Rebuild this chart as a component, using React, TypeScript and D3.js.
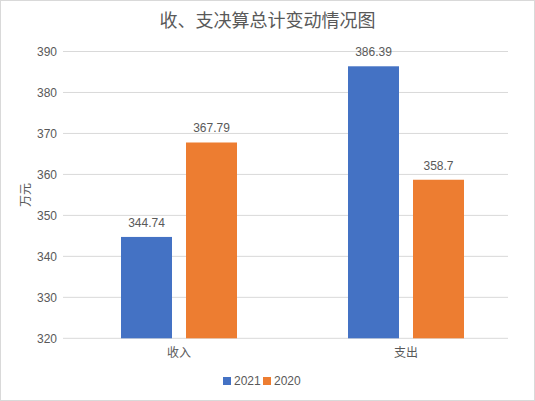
import React, { useEffect, useRef } from 'react';
import * as d3 from 'd3';

const categories = ['收入', '支出'];
const series = ['2021', '2020'];
const values2021 = [344.74, 386.39];
const values2020 = [367.79, 358.7];
const yTicks = [320, 330, 340, 350, 360, 370, 380, 390];
const colors = ['#4472c4', '#ed7d31'];

const W = 535;
const H = 401;
const FONT = '"Liberation Sans", "Noto Sans CJK SC", sans-serif';
const TEXT = '#595959';

export default function App() {
  const svgRef = useRef<SVGSVGElement>(null);

  useEffect(() => {
    if (!svgRef.current) return;
    const svg = d3.select(svgRef.current);
    svg.selectAll('*').remove();

    const plot = { left: 63, right: 508, top: 51.5, bottom: 338.3 };

    // 背景和边框
    svg.append('rect')
      .attr('x', 0.5).attr('y', 0.5)
      .attr('width', W - 1).attr('height', H - 1)
      .attr('fill', '#fff')
      .attr('stroke', '#d9d9d9');

    const y = d3.scaleLinear().domain([320, 390]).range([plot.bottom, plot.top]);

    const x0 = d3.scaleBand<string>().domain(categories).range([65.5, 519.5]);
    const groupW = 116;
    const x1 = d3.scaleBand<string>()
      .domain(series)
      .range([(x0.bandwidth() - groupW) / 2, (x0.bandwidth() + groupW) / 2])
      .paddingInner(14 / 65);

    // 网格线
    svg.append('g')
      .selectAll('line')
      .data(yTicks)
      .join('line')
      .attr('x1', plot.left).attr('x2', plot.right)
      .attr('y1', d => y(d)).attr('y2', d => y(d))
      .attr('stroke', '#d9d9d9')
      .attr('stroke-width', 1);

    // y轴刻度
    svg.append('g')
      .selectAll('text')
      .data(yTicks)
      .join('text')
      .attr('x', 57)
      .attr('y', d => y(d))
      .attr('dy', '0.35em')
      .attr('text-anchor', 'end')
      .attr('font-size', 12)
      .attr('font-family', FONT)
      .attr('fill', TEXT)
      .text(d => d);

    // 柱子
    const data = categories.map((c, i) => ({
      cat: c,
      vals: [
        { s: series[0], v: values2021[i], color: colors[0] },
        { s: series[1], v: values2020[i], color: colors[1] },
      ],
    }));

    const groups = svg.append('g')
      .selectAll('g')
      .data(data)
      .join('g')
      .attr('transform', d => `translate(${x0(d.cat)},0)`);

    groups.selectAll('rect')
      .data(d => d.vals)
      .join('rect')
      .attr('x', d => x1(d.s)!)
      .attr('width', x1.bandwidth())
      .attr('y', d => y(d.v))
      .attr('height', d => plot.bottom - y(d.v))
      .attr('fill', d => d.color);

    groups.selectAll('text')
      .data(d => d.vals)
      .join('text')
      .attr('x', d => x1(d.s)! + x1.bandwidth() / 2)
      .attr('y', d => y(d.v) - 10)
      .attr('text-anchor', 'middle')
      .attr('font-size', 12)
      .attr('font-family', FONT)
      .attr('fill', TEXT)
      .text(d => d.v);

    // 类别标签
    svg.append('g')
      .selectAll('text')
      .data(categories)
      .join('text')
      .attr('x', d => x0(d)! + x0.bandwidth() / 2)
      .attr('y', 357)
      .attr('text-anchor', 'middle')
      .attr('font-size', 12)
      .attr('font-family', FONT)
      .attr('fill', TEXT)
      .text(d => d);

    // 标题
    svg.append('text')
      .attr('x', W / 2)
      .attr('y', 27)
      .attr('text-anchor', 'middle')
      .attr('font-size', 18)
      .attr('font-family', FONT)
      .attr('fill', TEXT)
      .text('收、支决算总计变动情况图');

    // y轴标题
    svg.append('text')
      .attr('transform', `translate(30,195) rotate(-90)`)
      .attr('text-anchor', 'middle')
      .attr('font-size', 12)
      .attr('font-family', FONT)
      .attr('fill', TEXT)
      .text('万元');

    // 图例
    const legend = svg.append('g')
      .selectAll('g')
      .data(series)
      .join('g')
      .attr('transform', (d, i) => `translate(${223 + i * 40},377)`);

    legend.append('rect')
      .attr('width', 8).attr('height', 8)
      .attr('fill', (d, i) => colors[i]);

    legend.append('text')
      .attr('x', 11)
      .attr('y', 4)
      .attr('dy', '0.35em')
      .attr('font-size', 12)
      .attr('font-family', FONT)
      .attr('fill', TEXT)
      .text(d => d);
  }, []);

  return (
    <svg
      ref={svgRef}
      width={W}
      height={H}
      style={{ position: 'absolute', left: 0, top: 0 }}
    />
  );
}
